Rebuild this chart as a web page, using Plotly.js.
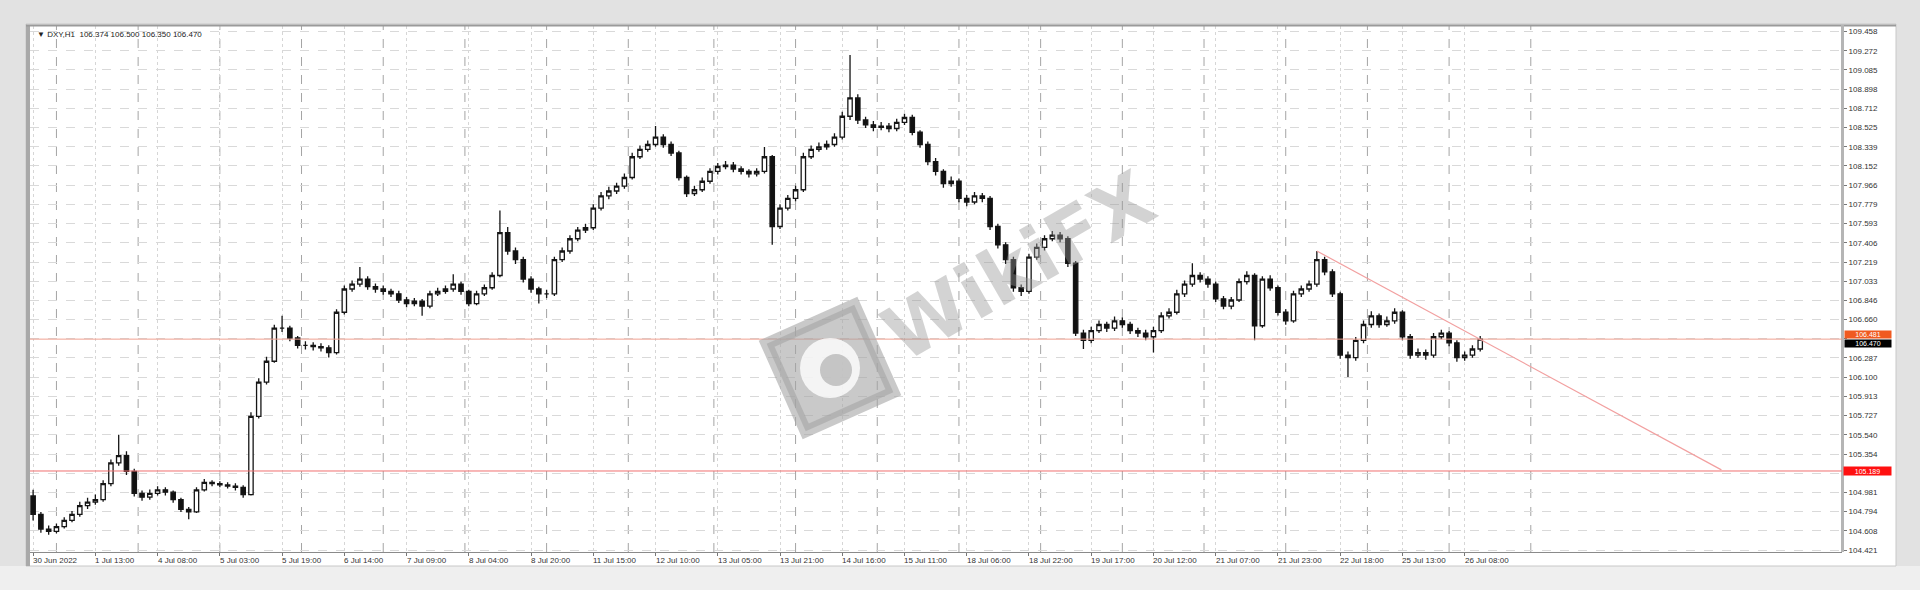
<!DOCTYPE html>
<html><head><meta charset="utf-8">
<script src="https://cdn.plot.ly/plotly-3.0.1.min.js"></script>
<style>html,body{margin:0;padding:0;background:#e6e6e6;}#chart{width:1920px;height:590px;}</style>
</head><body><div id="chart"></div>
<script>
// ---- data (2-hour candles) ----
const opens = [104.947,104.768,104.625,104.602,104.649,104.709,104.768,104.852,104.887,104.911,105.066,105.268,105.339,105.185,104.971,104.935,104.971,105.006,104.983,104.911,104.816,104.792,105.006,105.078,105.066,105.054,105.042,105.030,104.960,105.720,106.053,106.255,106.577,106.577,106.481,106.410,106.410,106.398,106.386,106.339,106.731,106.957,107.005,107.053,106.981,106.957,106.934,106.910,106.850,106.815,106.838,106.791,106.910,106.934,106.957,107.005,106.934,106.815,106.910,106.969,107.088,107.505,107.326,107.243,107.053,106.957,106.910,106.910,107.243,107.326,107.445,107.528,107.552,107.743,107.861,107.909,107.957,108.040,108.242,108.314,108.361,108.433,108.361,108.278,108.040,107.885,107.921,108.004,108.099,108.147,108.159,108.123,108.099,108.076,108.099,108.242,107.564,107.743,107.838,107.921,108.242,108.314,108.337,108.361,108.433,108.635,108.813,108.599,108.552,108.528,108.540,108.516,108.575,108.623,108.480,108.361,108.195,108.099,107.980,108.004,107.838,107.802,107.861,107.838,107.564,107.386,107.243,106.969,106.934,107.267,107.362,107.445,107.481,107.445,107.207,106.529,106.458,106.553,106.612,106.577,106.648,106.612,106.553,106.529,106.493,106.553,106.696,106.731,106.910,107.005,107.088,107.053,107.005,106.862,106.791,106.850,107.029,107.088,106.600,107.053,106.969,106.731,106.648,106.910,106.957,107.005,107.243,107.124,106.910,106.315,106.291,106.458,106.612,106.696,106.612,106.648,106.731,106.493,106.315,106.339,106.315,106.493,106.529,106.434,106.291,106.315,106.374];
const closes = [104.768,104.625,104.602,104.649,104.709,104.768,104.852,104.887,104.911,105.066,105.268,105.339,105.185,104.971,104.935,104.971,105.006,104.983,104.911,104.816,104.792,105.006,105.078,105.066,105.054,105.042,105.030,104.960,105.720,106.053,106.255,106.577,106.577,106.481,106.410,106.410,106.398,106.386,106.339,106.731,106.957,107.005,107.053,106.981,106.957,106.934,106.910,106.850,106.815,106.838,106.791,106.910,106.934,106.957,107.005,106.934,106.815,106.910,106.969,107.088,107.505,107.326,107.243,107.053,106.957,106.910,106.910,107.243,107.326,107.445,107.528,107.552,107.743,107.861,107.909,107.957,108.040,108.242,108.314,108.361,108.433,108.361,108.278,108.040,107.885,107.921,108.004,108.099,108.147,108.159,108.123,108.099,108.076,108.099,108.242,107.564,107.743,107.838,107.921,108.242,108.314,108.337,108.361,108.433,108.635,108.813,108.599,108.552,108.528,108.540,108.516,108.575,108.623,108.480,108.361,108.195,108.099,107.980,108.004,107.838,107.802,107.861,107.838,107.564,107.386,107.243,106.969,106.934,107.267,107.362,107.445,107.481,107.445,107.207,106.529,106.458,106.553,106.612,106.577,106.648,106.612,106.553,106.529,106.493,106.553,106.696,106.731,106.910,107.005,107.088,107.053,107.005,106.862,106.791,106.850,107.029,107.088,106.600,107.053,106.969,106.731,106.648,106.910,106.957,107.005,107.243,107.124,106.910,106.315,106.291,106.458,106.612,106.696,106.612,106.648,106.731,106.493,106.315,106.339,106.315,106.493,106.529,106.434,106.291,106.315,106.374,106.470];
const highs = [105.006,104.790,104.660,104.680,104.740,104.800,104.890,104.930,104.960,105.100,105.300,105.542,105.380,105.210,105.000,105.010,105.040,105.030,105.000,104.930,104.840,105.030,105.110,105.100,105.090,105.080,105.070,105.050,105.760,106.090,106.300,106.610,106.696,106.600,106.500,106.450,106.440,106.430,106.410,106.760,106.990,107.040,107.171,107.080,107.010,106.990,106.960,106.940,106.880,106.870,106.860,106.940,106.970,106.990,107.100,107.030,106.950,106.940,107.000,107.120,107.719,107.560,107.360,107.270,107.080,106.980,106.950,107.270,107.360,107.480,107.560,107.590,107.780,107.900,107.950,107.990,108.080,108.280,108.350,108.400,108.540,108.460,108.390,108.300,108.060,107.960,108.040,108.130,108.180,108.200,108.190,108.150,108.120,108.130,108.337,108.260,107.780,107.870,107.960,108.280,108.350,108.380,108.400,108.470,108.680,109.230,108.850,108.630,108.590,108.580,108.570,108.610,108.660,108.650,108.500,108.390,108.230,108.120,108.050,108.030,107.870,107.900,107.890,107.860,107.590,107.410,107.270,107.000,107.300,107.400,107.480,107.520,107.510,107.470,107.230,106.560,106.590,106.650,106.640,106.690,106.680,106.640,106.580,106.560,106.590,106.730,106.770,106.950,107.040,107.207,107.120,107.080,107.030,106.890,106.880,107.060,107.130,107.110,107.080,107.090,106.990,106.760,106.940,106.990,107.040,107.326,107.270,107.150,106.930,106.350,106.490,106.650,106.740,106.720,106.690,106.770,106.750,106.520,106.380,106.370,106.530,106.560,106.550,106.460,106.350,106.410,106.500];
const lows = [104.709,104.590,104.570,104.585,104.630,104.690,104.745,104.820,104.860,104.890,105.040,105.240,105.150,104.940,104.900,104.910,104.950,104.950,104.880,104.790,104.720,104.780,104.990,105.040,105.030,105.020,105.000,104.930,104.950,105.700,106.030,106.240,106.540,106.450,106.380,106.370,106.360,106.350,106.291,106.320,106.710,106.930,106.980,106.950,106.920,106.900,106.880,106.820,106.780,106.790,106.696,106.770,106.890,106.910,106.930,106.900,106.790,106.800,106.890,106.950,107.070,107.290,107.200,107.020,106.920,106.815,106.870,106.890,107.220,107.300,107.420,107.500,107.530,107.720,107.830,107.880,107.930,108.020,108.220,108.290,108.340,108.330,108.250,108.010,107.850,107.860,107.900,107.980,108.070,108.120,108.090,108.070,108.040,108.050,108.080,107.386,107.540,107.720,107.810,107.900,108.220,108.290,108.310,108.340,108.410,108.600,108.560,108.520,108.490,108.500,108.480,108.490,108.550,108.450,108.330,108.160,108.060,107.940,107.950,107.800,107.760,107.780,107.800,107.530,107.350,107.200,106.930,106.890,106.910,107.240,107.330,107.420,107.410,107.170,106.500,106.374,106.430,106.530,106.540,106.550,106.580,106.520,106.490,106.460,106.339,106.530,106.670,106.710,106.880,106.980,107.020,106.970,106.830,106.760,106.760,106.830,107.000,106.458,106.580,106.940,106.700,106.610,106.630,106.880,106.930,106.980,107.090,106.880,106.280,106.101,106.260,106.430,106.580,106.580,106.590,106.620,106.460,106.280,106.290,106.270,106.290,106.470,106.400,106.250,106.260,106.290,106.350];
const hoursPerCandle = 2;
const timeLabels = ["30 Jun 2022","1 Jul 13:00","4 Jul 08:00","5 Jul 03:00","5 Jul 19:00","6 Jul 14:00","7 Jul 09:00","8 Jul 04:00","8 Jul 20:00","11 Jul 15:00","12 Jul 10:00","13 Jul 05:00","13 Jul 21:00","14 Jul 16:00","15 Jul 11:00","18 Jul 06:00","18 Jul 22:00","19 Jul 17:00","20 Jul 12:00","21 Jul 07:00","21 Jul 23:00","22 Jul 18:00","25 Jul 13:00","26 Jul 08:00"];
const timeLabelBars = [0,16,32,48,64,80,96,112,128,144,160,176,192,208,224,240,256,272,288,304,320,336,352,368];
const daySeparatorBars = [6,27,48,69,90,111,132,153,175,196,217,238,259,280,301,322,343,364,385];
const priceTicks = [104.421,104.608,104.794,104.981,105.167,105.354,105.540,105.727,105.913,106.100,106.287,106.473,106.660,106.846,107.033,107.219,107.406,107.593,107.779,107.966,108.152,108.339,108.525,108.712,108.898,109.085,109.272,109.458];
const askPrice = 106.481;
const supportLevel = 105.189;
const trendStart = {bar: 330, price: 107.326};
const trendEnd = {bar: 434, price: 105.200};
const headerText = "▼ DXY,H1  106.374 106.500 106.350 106.470";

// ---- layout helpers ----
const W = 1920, H = 590;
const M = {l: 30, r: 78, t: 26, b: 38};
const PW = W - M.l - M.r, PH = H - M.t - M.b;
const fx = px => (px - M.l) / PW;
const fy = py => 1 - (py - M.t) / PH;

const xs = closes.map((_, i) => i * hoursPerCandle);
const lastClose = closes[closes.length - 1];
// price-scale labels hidden behind the price boxes (as in the reference)
const tickText = priceTicks.map(v => (Math.abs(v - lastClose) < 0.06 || Math.abs(v - supportLevel) < 0.06) ? '' : v.toFixed(3));

const trace = {
  type: 'candlestick', x: xs, open: opens, high: highs, low: lows, close: closes,
  increasing: {line: {color: '#151515', width: 1.3}, fillcolor: '#ffffff'},
  decreasing: {line: {color: '#151515', width: 1.3}, fillcolor: '#111111'},
  whiskerwidth: 0, hoverinfo: 'skip', showlegend: false
};

const shapes = [];
shapes.push({type:'rect', xref:'paper', yref:'paper', x0:fx(0), x1:fx(W), y0:fy(H), y1:fy(566), fillcolor:'#efefef', line:{width:0}, layer:'below'});
shapes.push({type:'rect', xref:'paper', yref:'paper', x0:fx(26), x1:fx(1896), y0:fy(566), y1:fy(24), fillcolor:'#ffffff', line:{color:'#c8c8c8', width:1}, layer:'below'});
shapes.push({type:'rect', xref:'paper', yref:'paper', x0:fx(26), x1:fx(30), y0:fy(566), y1:fy(25), fillcolor:'#a9a9a9', line:{width:0}, layer:'below'});
shapes.push({type:'line', xref:'paper', yref:'paper', x0:fx(26), x1:fx(1896), y0:fy(25.5), y1:fy(25.5), line:{color:'#9a9a9a', width:2}});
shapes.push({type:'rect', xref:'paper', yref:'paper', x0:fx(1841), x1:fx(1844), y0:fy(552), y1:fy(25), fillcolor:'#b5b5b5', line:{width:0}});
daySeparatorBars.forEach(b => shapes.push({type:'line', xref:'x', yref:'paper', x0:b, x1:b, y0:0, y1:1, line:{color:'#a4a4a4', width:1, dash:'dash'}, layer:'below'}));
shapes.push({type:'line', xref:'paper', yref:'y', x0:0, x1:1, y0:lastClose, y1:lastClose, line:{color:'#f0a090', width:1}});
shapes.push({type:'line', xref:'paper', yref:'y', x0:0, x1:1, y0:supportLevel, y1:supportLevel, line:{color:'#f07070', width:1}});
shapes.push({type:'line', xref:'x', yref:'y', x0:trendStart.bar, y0:trendStart.price, x1:trendEnd.bar, y1:trendEnd.price, line:{color:'#f2a0a0', width:1.2}});
// watermark logo (tilted rounded square with a light emblem)
(function(){
  const cx = 830, cy = 368, s = 48, a = -24 * Math.PI / 180;
  const rot = (dx, dy) => [cx + dx*Math.cos(a) - dy*Math.sin(a), cy + dx*Math.sin(a) + dy*Math.cos(a)];
  const pts = [[-s,-s],[s,-s],[s,s],[-s,s]].map(([dx,dy]) => rot(dx, dy));
  const p = 'M ' + pts.map(q => fx(q[0]) + ',' + fy(q[1])).join(' L ') + ' Z';
  shapes.push({type:'path', xref:'paper', yref:'paper', path:p, fillcolor:'rgba(165,165,165,0.6)', line:{color:'rgba(165,165,165,0.6)', width:12}});
  shapes.push({type:'circle', xref:'paper', yref:'paper', x0:fx(cx-30), x1:fx(cx+30), y0:fy(cy+30), y1:fy(cy-30), fillcolor:'rgba(255,255,255,0.8)', line:{width:0}});
  shapes.push({type:'circle', xref:'paper', yref:'paper', x0:fx(cx-10), x1:fx(cx+22), y0:fy(cy+18), y1:fy(cy-14), fillcolor:'rgba(165,165,165,0.6)', line:{width:0}});
})();

const annotations = [];
annotations.push({xref:'paper', yref:'paper', x:fx(35), y:fy(28), xanchor:'left', yanchor:'top', text:headerText, showarrow:false, font:{family:'Liberation Sans', size:8, color:'#222'}});
timeLabels.forEach((t, i) => annotations.push({xref:'x', yref:'paper', x:timeLabelBars[i], y:fy(554), xanchor:'left', yanchor:'top', text:t, showarrow:false, xshift:-2, font:{family:'Liberation Sans', size:8, color:'#333'}}));
annotations.push({xref:'paper', yref:'y', x:fx(1844), y:lastClose, xanchor:'left', yanchor:'bottom', text:askPrice.toFixed(3), showarrow:false, bgcolor:'#f05a20', borderpad:0, font:{family:'Liberation Sans', size:7, color:'#ffffff'}, width:46, height:7});
annotations.push({xref:'paper', yref:'y', x:fx(1844), y:lastClose, xanchor:'left', yanchor:'top', text:lastClose.toFixed(3), showarrow:false, bgcolor:'#000000', borderpad:0, font:{family:'Liberation Sans', size:7, color:'#ffffff'}, width:46, height:7});
annotations.push({xref:'paper', yref:'y', x:fx(1843), y:supportLevel, xanchor:'left', yanchor:'middle', text:supportLevel.toFixed(3), showarrow:false, bgcolor:'#ff1010', borderpad:0, font:{family:'Liberation Sans', size:7, color:'#ffffff'}, width:47, height:8});
annotations.push({xref:'paper', yref:'paper', x:fx(1018), y:fy(266), xanchor:'center', yanchor:'middle', text:'<b>WikiFX</b>', textangle:-30, showarrow:false, font:{family:'DejaVu Sans', size:76, color:'rgba(150,150,150,0.42)'}});

const layout = {
  width: W, height: H, margin: M,
  paper_bgcolor: '#e2e2e2', plot_bgcolor: 'rgba(0,0,0,0)',
  showlegend: false, boxgap: 0.2,
  xaxis: {
    type: 'linear', range: [-0.8, 465], rangeslider: {visible: false},
    tickvals: timeLabelBars, showticklabels: false, ticks: 'outside', ticklen: 3, tickcolor: '#777',
    showgrid: true, gridcolor: '#d6d6d6', griddash: 'dot', gridwidth: 1,
    zeroline: false, showline: true, linecolor: '#8a8a8a', linewidth: 1, fixedrange: true
  },
  yaxis: {
    side: 'right', range: [104.402, 109.512], tickvals: priceTicks, ticktext: tickText,
    ticks: 'outside', ticklen: 4, tickcolor: '#777', tickfont: {family: 'Liberation Sans', size: 8, color: '#333'},
    showgrid: true, gridcolor: '#d9d9d9', griddash: 'dash', gridwidth: 1, zeroline: false,
    showline: false, fixedrange: true
  },
  shapes: shapes, annotations: annotations
};
Plotly.newPlot('chart', [trace], layout, {displayModeBar: false, staticPlot: true});
</script></body></html>
